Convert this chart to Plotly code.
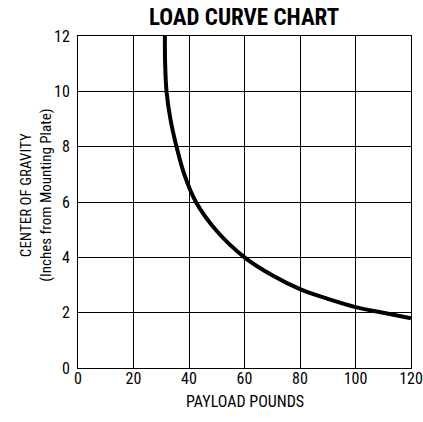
import plotly.graph_objects as go

payload = [31.3, 31.4, 31.9, 33.3, 35.5, 38.3, 42.5, 50, 60, 70, 80, 90, 100, 110, 120]
cog = [12, 11, 10, 9, 8, 7, 6, 4.95, 4.0, 3.35, 2.85, 2.5, 2.2, 2.0, 1.8]

x_ticks = [0, 20, 40, 60, 80, 100, 120]
y_ticks = [0, 2, 4, 6, 8, 10, 12]

FONT = "Liberation Sans Narrow, Arial Narrow, Roboto Condensed, Liberation Sans, sans-serif"

fig = go.Figure()
fig.add_trace(go.Scatter(
    x=payload, y=cog, mode="lines",
    line=dict(color="black", width=4, shape="spline", smoothing=1.0),
    hoverinfo="skip", showlegend=False,
))

fig.update_layout(
    width=423, height=422,
    margin=dict(l=78, r=12, t=36, b=54),
    paper_bgcolor="white", plot_bgcolor="white",
    font=dict(family=FONT, size=16, color="black"),
    title=dict(text="<b>LOAD CURVE CHART</b>", x=0.577, xanchor="center",
               y=0.96, yanchor="middle", font=dict(family=FONT, size=23, color="black")),
    xaxis=dict(
        range=[0, 120], tickvals=x_ticks, ticktext=[str(v) for v in x_ticks],
        showgrid=True, gridcolor="black", gridwidth=1,
        showline=True, linecolor="black", linewidth=1, mirror=True,
        zeroline=False, ticks="", ticklabelstandoff=-4,
        tickfont=dict(size=16), automargin=False,
        fixedrange=True,
    ),
    yaxis=dict(
        range=[0, 12], tickvals=y_ticks, ticktext=[str(v) for v in y_ticks],
        showgrid=True, gridcolor="black", gridwidth=1,
        showline=True, linecolor="black", linewidth=1, mirror=True,
        zeroline=False, ticks="outside", ticklen=4, tickcolor="rgba(0,0,0,0)",
        tickfont=dict(size=16), automargin=False,
        fixedrange=True,
    ),
    annotations=[
        dict(text="PAYLOAD POUNDS", xref="paper", yref="paper", x=0.5, y=-0.1,
             xanchor="center", yanchor="middle", showarrow=False,
             font=dict(family=FONT, size=16, color="black")),
        dict(text="CENTER OF GRAVITY<br>(Inches from Mounting Plate)", xref="paper", yref="paper",
             x=-0.125, y=0.52, xanchor="center", yanchor="middle", textangle=-90,
             showarrow=False, font=dict(family=FONT, size=15, color="black")),
    ],
)

fig.write_html("out.html", config={"displayModeBar": False, "staticPlot": True},
               post_script="document.body.style.margin='0';document.body.style.overflow='hidden';")
